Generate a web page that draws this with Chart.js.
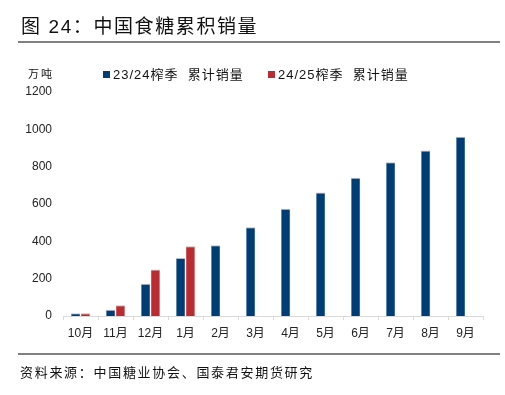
<!DOCTYPE html>
<html>
<head>
<meta charset="utf-8">
<script src="https://cdn.jsdelivr.net/npm/chart.js@4"></script>
<style>
  body { margin: 0; background: #fff; }
  #wrap { position: relative; width: 505px; height: 395px; overflow: hidden;
          font-family: "Liberation Sans", "Noto Sans CJK SC", sans-serif; color: #111; }
  #chart { position: absolute; left: 0; top: 0; }
  .title { position: absolute; left: 21px; top: 11px; font-size: 19px; letter-spacing: 1.6px; }
  .rule  { position: absolute; left: 18px; width: 482px; height: 2px; background: #808080; }
  .unit  { position: absolute; left: 28px; top: 65px; font-size: 11px; letter-spacing: 2px; }
  .legend { position: absolute; top: 64px; font-size: 13px; letter-spacing: 1px; white-space: pre; }
  .legend i { display: inline-block; width: 7px; height: 7px; margin-right: 3px; vertical-align: 1px; }
  .source { position: absolute; left: 20px; top: 362px; font-size: 13px; letter-spacing: 1.7px; }
</style>
</head>
<body>
<div id="wrap">
  <canvas id="chart" width="505" height="395"></canvas>
  <div class="title">图 24：中国食糖累积销量</div>
  <div class="rule" style="top:41px"></div>
  <div class="unit">万吨</div>
  <div id="legend"></div>
  <div class="rule" style="top:353px"></div>
  <div class="source">资料来源：中国糖业协会、国泰君安期货研究</div>
</div>
<script>
// ─── DATA ─────────────────────────────────────────────────────
const months = ["10月", "11月", "12月", "1月", "2月", "3月", "4月", "5月", "6月", "7月", "8月", "9月"];
const season2324 = [15, 33, 173, 311, 379, 475, 575, 661, 740, 823, 887, 960];
const season2425 = [15, 58, 249, 373, null, null, null, null, null, null, null, null];
const seriesNames = ["23/24榨季  累计销量", "24/25榨季  累计销量"];
const yTicks = [0, 200, 400, 600, 800, 1000, 1200];

const BLUE = "#003d74";
const RED = "#ba2c31";
const FONT = "'Liberation Sans', 'Noto Sans CJK SC', sans-serif";

// ─── CHART ────────────────────────────────────────────────────
const ctx = document.getElementById("chart").getContext("2d");
const chart = new Chart(ctx, {
    type: "bar",
    data: {
        labels: months,
        datasets: [
            {
                label: seriesNames[0],
                data: season2324,
                backgroundColor: BLUE,
                borderColor: "rgba(120,150,190,0.6)",
                borderWidth: { top: 1, left: 0.5, right: 0.5, bottom: 0 },
                barPercentage: 0.95,
                categoryPercentage: 0.56
            },
            {
                label: seriesNames[1],
                data: season2425,
                backgroundColor: RED,
                borderColor: "rgba(210,120,120,0.6)",
                borderWidth: { top: 1, left: 0.5, right: 0.5, bottom: 0 },
                barPercentage: 0.95,
                categoryPercentage: 0.56
            }
        ]
    },
    options: {
        responsive: false,
        animation: false,
        layout: { padding: { left: 0, right: 22, top: 92, bottom: 43 } },
        plugins: {
            legend: { display: false },
            tooltip: { enabled: false }
        },
        scales: {
            x: {
                afterFit: s => { s.height = 36; },
                border: { color: "#d9d9d9", width: 1 },
                grid: { drawOnChartArea: false, color: "#d9d9d9", tickLength: 4 },
                ticks: { color: "#222", font: { family: FONT, size: 12 }, padding: 6 }
            },
            y: {
                min: 0,
                max: 1200,
                afterFit: s => { s.width = 63; },
                afterBuildTicks: s => { s.ticks = yTicks.map(v => ({ value: v })); },
                border: { display: false },
                grid: { display: false, drawTicks: false },
                ticks: {
                    color: "#222",
                    font: { family: FONT, size: 12 },
                    padding: 11,
                    callback: v => String(v)
                }
            }
        }
    }
});

// ─── LEGEND (html, from datasets) ─────────────────────────────
const legendX = [103, 268];
chart.data.datasets.forEach((ds, i) => {
    const el = document.createElement("div");
    el.className = "legend";
    el.style.left = legendX[i] + "px";
    el.innerHTML = `<i style="background:${ds.backgroundColor}"></i>${ds.label}`;
    document.getElementById("wrap").appendChild(el);
});
</script>
</body>
</html>
